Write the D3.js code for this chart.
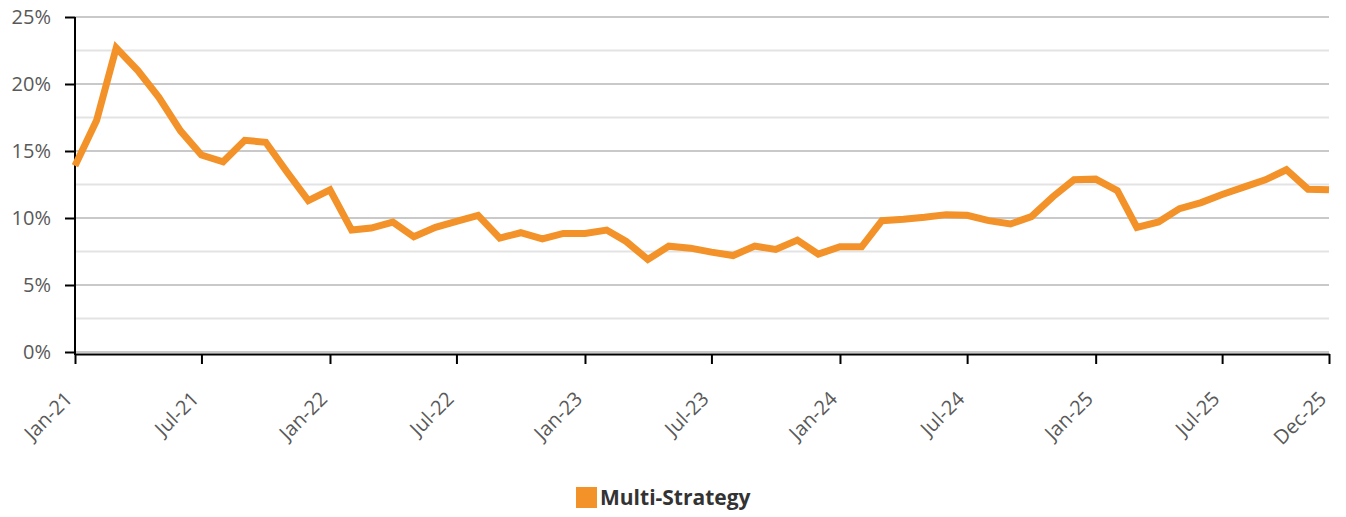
<!DOCTYPE html>
<html>
<head>
<meta charset="utf-8">
<script src="https://cdn.jsdelivr.net/npm/d3@7"></script>
<style>
  body { margin: 0; background: #fff; }
  svg { display: block; }
</style>
</head>
<body>
<div id="placeholder"></div>
<script>
// Monthly values, Jan-21 .. Dec-25 (percent)
var values = [
  13.9, 17.3, 22.7, 21.0, 19.0, 16.5, 14.7, 14.2, 15.8, 15.65, 13.4, 11.3,
  12.1, 9.1, 9.25, 9.7, 8.6, 9.3, 9.75, 10.2, 8.5, 8.9, 8.45, 8.85,
  8.85, 9.1, 8.25, 6.9, 7.9, 7.75, 7.45, 7.2, 7.9, 7.65, 8.35, 7.3,
  7.85, 7.85, 9.8, 9.9, 10.05, 10.25, 10.2, 9.8, 9.55, 10.1, 11.6, 12.85,
  12.9, 12.05, 9.3, 9.7, 10.7, 11.15, 11.75, 12.3, 12.85, 13.6, 12.15, 12.1
];

var data = values.map(function (v, i) {
  return { date: new Date(2021, i, 1), value: v };
});

var W = 1346, H = 517;
var margin = { top: 17, right: 17, bottom: 165, left: 75 };
var w = W - margin.left - margin.right;
var h = H - margin.top - margin.bottom;

var svg = d3.select("#placeholder").append("svg")
  .attr("width", W).attr("height", H);
var g = svg.append("g").attr("transform", "translate(" + margin.left + "," + margin.top + ")");

var x = d3.scaleTime()
  .domain([data[0].date, data[data.length - 1].date])
  .range([0, w]);
var y = d3.scaleLinear().domain([0, 25]).range([h, 0]);

// Gridlines: major every 5%, minor at 2.5%
var gridVals = d3.range(0, 25.01, 2.5);
g.selectAll(".grid").data(gridVals).enter().append("line")
  .attr("x1", 0).attr("x2", w)
  .attr("y1", function (d) { return y(d); })
  .attr("y2", function (d) { return y(d); })
  .style("stroke", function (d) { return d % 5 === 0 ? "#c9c9c9" : "#e3e3e3"; })
  .style("stroke-width", 2);

// Y axis
var yAxis = g.append("g")
  .call(d3.axisLeft(y).tickValues([0, 5, 10, 15, 20, 25])
    .tickFormat(function (d) { return d + "%"; })
    .tickSize(10).tickPadding(14));
yAxis.select(".domain").style("stroke", "#000").style("stroke-width", 2)
  .attr("d", "M0," + y(25) + "V" + (h + 3));
yAxis.selectAll(".tick line").style("stroke", "#000").style("stroke-width", 2);
yAxis.selectAll("text")
  .style("font-family", "'Open Sans', sans-serif")
  .style("font-size", "20px")
  .style("fill", "#595959");

// X axis
var tickDates = [];
for (var yr = 2021; yr <= 2025; yr++) {
  tickDates.push(new Date(yr, 0, 1));
  tickDates.push(new Date(yr, 6, 1));
}
tickDates.push(new Date(2025, 11, 1));

var xAxis = g.append("g")
  .attr("transform", "translate(0," + (h + 2) + ")")
  .call(d3.axisBottom(x).tickValues(tickDates)
    .tickFormat(d3.timeFormat("%b-%y")).tickSize(10).tickSizeOuter(0));
xAxis.select(".domain").style("stroke", "#000").style("stroke-width", 2);
xAxis.selectAll(".tick line").style("stroke", "#000").style("stroke-width", 2);
xAxis.selectAll("text")
  .style("font-family", "'Open Sans', sans-serif")
  .style("font-size", "20px")
  .style("fill", "#595959")
  .attr("text-anchor", "end")
  .attr("dx", "0")
  .attr("dy", "0")
  .attr("transform", "translate(-11,37) rotate(-45)");

// Line
var line = d3.line()
  .x(function (d) { return x(d.date); })
  .y(function (d) { return y(d.value); });

g.append("path").datum(data)
  .attr("d", line)
  .style("fill", "none")
  .style("stroke", "#F39229")
  .style("stroke-width", 7)
  .style("stroke-linejoin", "miter");

// Legend
var legend = svg.append("g").attr("transform", "translate(576,487)");
legend.append("rect").attr("width", 21).attr("height", 21).style("fill", "#F39229");
legend.append("text")
  .attr("x", 24).attr("y", 18)
  .style("font-family", "'Open Sans', sans-serif")
  .style("font-size", "21px")
  .style("font-weight", "bold")
  .style("fill", "#333")
  .text("Multi-Strategy");
</script>
</body>
</html>
